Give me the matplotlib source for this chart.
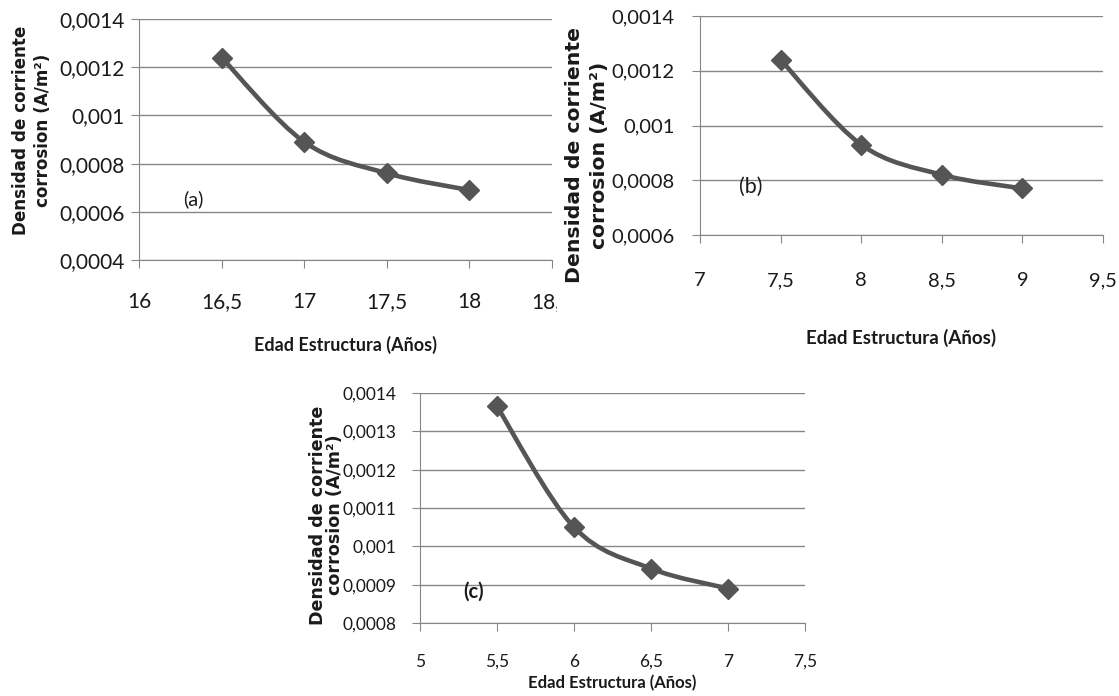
import matplotlib
matplotlib.use("Agg")
import matplotlib.pyplot as plt
from matplotlib.path import Path
from matplotlib.patches import PathPatch
from matplotlib.transforms import Bbox, TransformedBbox

# datos
edad_a = [16.5, 17, 17.5, 18]
dens_a = [0.00124, 0.00089, 0.00076, 0.00069]
edad_b = [7.5, 8, 8.5, 9]
dens_b = [0.00124, 0.00093, 0.00082, 0.00077]
edad_c = [5.5, 6, 6.5, 7]
dens_c = [0.001365, 0.00105, 0.000942, 0.00089]

xt_a = [16, 16.5, 17, 17.5, 18, 18.5]
xl_a = ["16", "16,5", "17", "17,5", "18", "18,5"]
yt_a = [0.0004, 0.0006, 0.0008, 0.001, 0.0012, 0.0014]
yl_a = ["0,0004", "0,0006", "0,0008", "0,001", "0,0012", "0,0014"]

xt_b = [7, 7.5, 8, 8.5, 9, 9.5]
xl_b = ["7", "7,5", "8", "8,5", "9", "9,5"]
yt_b = [0.0006, 0.0008, 0.001, 0.0012, 0.0014]
yl_b = ["0,0006", "0,0008", "0,001", "0,0012", "0,0014"]

xt_c = [5, 5.5, 6, 6.5, 7, 7.5]
xl_c = ["5", "5,5", "6", "6,5", "7", "7,5"]
yt_c = [0.0008, 0.0009, 0.001, 0.0011, 0.0012, 0.0013, 0.0014]
yl_c = ["0,0008", "0,0009", "0,001", "0,0011", "0,0012", "0,0013", "0,0014"]

ylab1 = "Densidad de corriente"
ylab2 = "corrosion (A/m²)"
xlab = "Edad Estructura (Años)"

W, H = 1119, 696
GRIS = "#868686"
LINEA = "#555555"
TXT = "#1a1a1a"


def px(x0, y0, x1, y1):
    # caja en pixeles -> fraccion de figura
    return [x0 / W, 1 - y1 / H, (x1 - x0) / W, (y1 - y0) / H]


def curva(xs, ys):
    # linea suavizada tipo Excel (bezier catmull-rom)
    pts = list(zip(xs, ys))
    n = len(pts)
    verts = [pts[0]]
    codes = [Path.MOVETO]
    for i in range(n - 1):
        p0 = pts[max(i - 1, 0)]
        p1 = pts[i]
        p2 = pts[i + 1]
        p3 = pts[min(i + 2, n - 1)]
        c1 = (p1[0] + (p2[0] - p0[0]) / 6, p1[1] + (p2[1] - p0[1]) / 6)
        c2 = (p2[0] - (p3[0] - p1[0]) / 6, p2[1] - (p3[1] - p1[1]) / 6)
        verts += [c1, c2, p2]
        codes += [Path.CURVE4] * 3
    return Path(verts, codes)


def panel(fig, caja, xs, ys, xt, xl, yt, yl, fs, xpad, ypad):
    ax = fig.add_axes(caja)
    ax.add_patch(PathPatch(curva(xs, ys), facecolor="none", edgecolor=LINEA,
                           lw=3.3, capstyle="round", zorder=3))
    ax.plot(xs, ys, "D", color=LINEA, ms=10, zorder=4)
    ax.set_xlim(xt[0], xt[-1])
    ax.set_ylim(yt[0], yt[-1])
    ax.set_xticks(xt)
    ax.set_xticklabels(xl, family="Lato", fontsize=fs, color=TXT)
    ax.set_yticks(yt)
    ax.set_yticklabels(yl, family="Lato", fontsize=fs, color=TXT)
    ax.yaxis.grid(True, color=GRIS, lw=1)
    ax.set_axisbelow(True)
    for s in ["top", "right"]:
        ax.spines[s].set_visible(False)
    for s in ["left", "bottom"]:
        ax.spines[s].set_color(GRIS)
    ax.tick_params(axis="x", direction="out", length=6, color=GRIS, pad=xpad)
    ax.tick_params(axis="y", direction="out", length=6, color=GRIS, pad=ypad)
    return ax


fig = plt.figure(figsize=(W / 100, H / 100), dpi=100)

ax_a = panel(fig, px(139, 19, 552, 260), edad_a, dens_a, xt_a, xl_a, yt_a, yl_a, 15, 17, 4)
ax_b = panel(fig, px(700, 16, 1103, 235), edad_b, dens_b, xt_b, xl_b, yt_b, yl_b, 14.5, 21, 12)
ax_c = panel(fig, px(420, 393, 805, 623), edad_c, dens_c, xt_c, xl_c, yt_c, yl_c, 12.5, 16, 11)

# el rotulo 18,5 aparece cortado en la original
corte = TransformedBbox(Bbox([[0, 0], [557 / W, 1]]), fig.transFigure)
for t in ax_a.get_xticklabels():
    t.set_clip_box(corte)
    t.set_clip_on(True)

ax_a.text(0.131, 0.253, "(a)", transform=ax_a.transAxes, family="Lato",
          fontsize=14.5, color=TXT, ha="center", va="center")
ax_b.text(0.127, 0.219, "(b)", transform=ax_b.transAxes, family="Lato",
          fontsize=15.5, color=TXT, ha="center", va="center")
ax_c.text(0.138, 0.135, "(c)", transform=ax_c.transAxes, family="Lato",
          fontsize=14.5, fontweight="bold", color=TXT, ha="center", va="center")

# titulos de ejes
for (x1, x2, yc, fs) in [(21, 43, 130, 12.1), (575, 600, 155, 14.7), (318, 335, 515, 12.6)]:
    fig.text(x1 / W, 1 - yc / H, ylab1, rotation=90, ha="center", va="center",
             family="DejaVu Sans", fontweight="bold", fontsize=fs, color=TXT)
    fig.text(x2 / W, 1 - yc / H, ylab2, rotation=90, ha="center", va="center",
             family="DejaVu Sans", fontweight="bold", fontsize=fs, color=TXT)

for (xc, yc, fs) in [(346, 345, 13), (901, 338, 13.5), (612, 683, 12)]:
    fig.text(xc / W, 1 - yc / H, xlab, ha="center", va="center", family="Lato",
             fontweight="bold", fontsize=fs, color=TXT)

fig.savefig("out.png", dpi=100)
